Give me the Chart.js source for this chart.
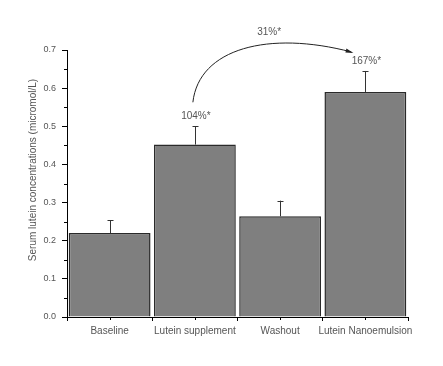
<!DOCTYPE html>
<html>
<head>
<meta charset="utf-8">
<script src="https://cdn.jsdelivr.net/npm/chart.js@4/dist/chart.umd.min.js"></script>
<style>
  html, body { margin: 0; padding: 0; background: #fff; }
  #wrap { width: 443px; height: 366px; position: relative; }
</style>
</head>
<body>
<div id="wrap"><canvas id="lutein"></canvas></div>
<script>
  // data
  const groups = ['Baseline', 'Lutein supplement', 'Washout', 'Lutein Nanoemulsion'];
  const means = [0.22, 0.452, 0.264, 0.59];
  const errUpper = [0.033, 0.048, 0.041, 0.055];
  const barLabels = ['', '104%*', '', '167%*'];
  const arrowLabel = '31%*';
  const yTicks = [0, 0.1, 0.2, 0.3, 0.4, 0.5, 0.6, 0.7];
  const yTitle = 'Serum lutein concentrations (micromol/L)';

  const FONT = '"Liberation Sans", Arial, sans-serif';
  const TEXT = '#555';

  // error bars, minor ticks, annotations and the curved arrow
  const extras = {
    id: 'extras',
    afterDatasetsDraw(chart) {
      const ctx = chart.ctx;
      const x = chart.scales.x, y = chart.scales.y;
      ctx.save();
      ctx.strokeStyle = '#333';
      ctx.lineWidth = 1;
      means.forEach((m, i) => {
        const cx = Math.round(x.getPixelForValue(i)) + 0.5;
        const top = y.getPixelForValue(m + errUpper[i]);
        ctx.beginPath();
        ctx.moveTo(cx, y.getPixelForValue(m));
        ctx.lineTo(cx, top);
        ctx.moveTo(cx - 3, Math.round(top) + 0.5);
        ctx.lineTo(cx + 3, Math.round(top) + 0.5);
        ctx.stroke();
      });
      // minor ticks
      ctx.strokeStyle = '#000';
      ctx.beginPath();
      for (let i = 0; i < yTicks.length - 1; i++) {
        const py = Math.round(y.getPixelForValue((yTicks[i] + yTicks[i + 1]) / 2)) + 0.5;
        ctx.moveTo(x.left - 3, py);
        ctx.lineTo(x.left, py);
      }
      groups.forEach((g, i) => {
        const px = Math.round(x.getPixelForValue(i)) + 0.5;
        ctx.moveTo(px, y.bottom);
        ctx.lineTo(px, y.bottom + 3);
      });
      ctx.stroke();
      // percentage labels
      ctx.fillStyle = TEXT;
      ctx.font = '10px ' + FONT;
      ctx.textAlign = 'center';
      ctx.textBaseline = 'middle';
      barLabels.forEach((t, i) => {
        if (!t) return;
        ctx.fillText(t, x.getPixelForValue(i) + 1, y.getPixelForValue(means[i] + errUpper[i]) - 10);
      });
      // curved arrow from bar 2 to bar 4
      const sx = x.getPixelForValue(1) - 2, sy = y.getPixelForValue(means[1] + errUpper[1]) - 24;
      const ex = x.getPixelForValue(3) - 14, ey = y.getPixelForValue(means[3] + errUpper[3]) - 19;
      ctx.strokeStyle = '#222';
      ctx.beginPath();
      ctx.moveTo(sx, sy);
      ctx.bezierCurveTo(sx + 6, sy - 54, sx + 76, sy - 72, ex, ey);
      ctx.stroke();
      const ang = Math.atan2(ey - (sy - 72), ex - (sx + 76));
      ctx.fillStyle = '#222';
      ctx.beginPath();
      ctx.moveTo(ex + 2, ey + 1);
      ctx.lineTo(ex - 6 * Math.cos(ang - 0.35), ey - 6 * Math.sin(ang - 0.35));
      ctx.lineTo(ex - 6 * Math.cos(ang + 0.35), ey - 6 * Math.sin(ang + 0.35));
      ctx.closePath();
      ctx.fill();
      ctx.fillStyle = TEXT;
      ctx.fillText(arrowLabel, (sx + ex) / 2 - 3, sy - 70);
      // y title
      ctx.translate(33, 170);
      ctx.rotate(-Math.PI / 2);
      ctx.fillText(yTitle, 0, 0);
      ctx.restore();
    }
  };

  new Chart(document.getElementById('lutein'), {
    type: 'bar',
    data: {
      labels: groups,
      datasets: [{
        data: means,
        backgroundColor: '#7f7f7f',
        borderColor: '#2a2a2a',
        borderWidth: 1.5,
        barPercentage: 0.96,
        categoryPercentage: 1
      }]
    },
    options: {
      responsive: true,
      maintainAspectRatio: false,
      animation: false,
      layout: { padding: { left: 0, top: 50, right: 35, bottom: 19 } },
      plugins: { legend: { display: false }, tooltip: { enabled: false } },
      scales: {
        x: {
          offset: true,
          grid: { offset: true, drawOnChartArea: false, tickLength: 4, color: '#000' },
          border: { color: '#000', width: 1 },
          ticks: { color: TEXT, font: { family: FONT, size: 10 }, padding: 4, maxRotation: 0, autoSkip: false },
          afterFit(s) { s.height = 30; }
        },
        y: {
          min: 0,
          max: 0.7,
          grid: { drawOnChartArea: false, tickLength: 5, color: '#000' },
          border: { color: '#000', width: 1 },
          ticks: {
            stepSize: 0.1,
            color: TEXT,
            font: { family: FONT, size: 9 },
            padding: 6,
            callback: (v) => yTicks.includes(Math.round(v * 10) / 10) ? v.toFixed(1) : ''
          },
          afterFit(s) { s.width = 67; }
        }
      }
    },
    plugins: [extras]
  });
</script>
</body>
</html>
